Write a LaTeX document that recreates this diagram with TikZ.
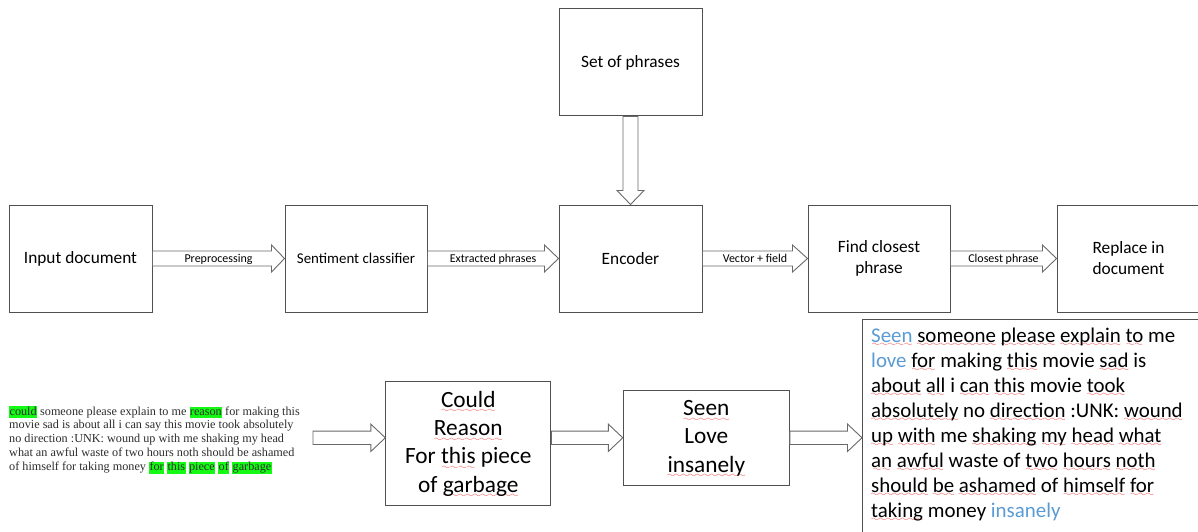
\documentclass[tikz,border=0pt]{standalone}
\usepackage{fontspec}
\setmainfont{Carlito}
\newfontfamily\timesfont{Liberation Serif}
\usetikzlibrary{calc}
\definecolor{boxline}{RGB}{80,80,80}
\definecolor{arrline}{RGB}{105,105,105}
\definecolor{hlgreen}{RGB}{20,250,20}
\definecolor{wordblue}{RGB}{91,155,213}
\definecolor{squig}{RGB}{240,60,60}
\definecolor{smalltext}{RGB}{45,45,45}
\newcommand\hlw[1]{{\setlength\fboxsep{0.4pt}\colorbox{hlgreen}{\vphantom{Ag}#1}}}
\newsavebox\sqbox
\font\wavefont=lasy6 scaled 1400
\newcommand\sqa[2][4.8pt]{\leavevmode\sbox\sqbox{#2}\rlap{\raisebox{-#1}[0pt][0pt]{\textcolor{squig}{\hbox to \wd\sqbox{\xleaders\hbox{\wavefont\char58}\hfil}}}}\usebox\sqbox}
% start, tip, half shaft, half head, head length
\newcommand\harrow[5]{\draw[fat] ($(#1)+(0,-#3)$) -- ($(#2)+(-#5,-#3)$) -- ($(#2)+(-#5,-#4)$) -- (#2) -- ($(#2)+(-#5,#4)$) -- ($(#2)+(-#5,#3)$) -- ($(#1)+(0,#3)$) -- cycle;}
\newcommand\varrow[5]{\draw[fat] ($(#1)+(-#3,0)$) -- ($(#2)+(-#3,-#5)$) -- ($(#2)+(-#4,-#5)$) -- (#2) -- ($(#2)+(#4,-#5)$) -- ($(#2)+(#3,-#5)$) -- ($(#1)+(#3,0)$) -- cycle;}
\begin{document}
\begin{tikzpicture}[x=1pt,y=-1pt,
  box/.style={draw=boxline, line width=1pt, fill=white, inner sep=0pt, align=center,
    minimum width=143pt, minimum height=107pt, font=\fontsize{17.3}{21.1}\selectfont},
  bigbox/.style={box, font=\fontsize{23.3}{28.3}\selectfont},
  fat/.style={draw=arrline, line width=0.9pt, fill=white, line join=miter},
  lbl/.style={font=\fontsize{12}{14}\selectfont, inner sep=0pt, anchor=base}]
\useasboundingbox[fill=white] (0,0) rectangle (1198,532);

% top row
\node[box] (inp) at (80.5,258.5) {Input document};
\node[box, minimum width=142pt, font=\fontsize{14.9}{18}\selectfont] (sent) at (356,258.5) {Sentiment classifier};
\node[box] (set) at (630.5,62.5) {Set of phrases};
\node[box] (enc) at (630.5,258.5) {Encoder};
\node[box, minimum width=142pt] (find) at (879,258.5) {Find closest\\phrase};
\node[box] (repl) at (1128.5,258.5) {Replace in\\document};

\harrow{inp.east}{sent.west}{7.5}{13.5}{13}
\harrow{sent.east}{enc.west}{7.5}{13.5}{14}
\harrow{enc.east}{find.west}{7.5}{13.5}{15}
\harrow{find.east}{repl.west}{7.5}{13.5}{14}
\varrow{set.south}{enc.north}{7.5}{13.5}{14}

\node[lbl] (lpre) at ($(inp.east)!0.5!(sent.west)+(0,4.2)$) {Preprocessing};
\node[lbl] (lext) at ($(sent.east)!0.5!(enc.west)+(0,4.2)$) {Extracted phrases};
\node[lbl] (lvec) at ($(enc.east)!0.5!(find.west)+(0,4.2)$) {Vector + field};
\node[lbl] (lclo) at ($(find.east)!0.5!(repl.west)+(0,4.2)$) {Closest phrase};

% bottom row
\node[anchor=base west, inner sep=0pt, text=smalltext] (src) at (9,415)
  {\parbox[t]{300pt}{\timesfont\fontsize{12.2}{13.9}\selectfont\raggedright
   \hlw{could} someone please explain to me \hlw{reason} for making this\\
   movie sad is about all i can say this movie took absolutely\\
   no direction :UNK: wound up with me shaking my head\\
   what an awful waste of two hours noth should be ashamed\\
   of himself for taking money \hlw{for} \hlw{this} \hlw{piece} \hlw{of} \hlw{garbage}}};

\node[bigbox, minimum width=165pt, minimum height=124.5pt] (could) at (468.3,443.5)
  {\sqa[5.6pt]{Could}\\\sqa[5.6pt]{Reason}\\For \sqa[5.6pt]{this} piece\\of \sqa[5.6pt]{garbage}};
\node[bigbox, minimum width=166pt, minimum height=95pt] (seen) at (706.3,438.2)
  {\sqa[5.6pt]{Seen}\\Love\\\sqa[5.6pt]{insanely}};
\node[draw=boxline, line width=1pt, fill=white, inner sep=0pt, anchor=north west,
  minimum width=345pt, minimum height=260pt] (out) at (862,319) {};

\coordinate (a1s) at (313,437.8);
\harrow{a1s}{could.west |- a1s}{6.7}{13.7}{14.5}
\harrow{could.east |- a1s}{seen.west |- a1s}{6.7}{13.7}{14.5}
\harrow{seen.east |- a1s}{out.west |- a1s}{6.7}{13.7}{14.5}

\node[anchor=base west, inner sep=0pt] (outtext) at (871,342)
  {\parbox[t]{325pt}{\fontsize{20.9}{25}\selectfont\raggedright
   \textcolor{wordblue}{\sqa{Seen}} \sqa{someone} \sqa{please} \sqa{explain} \sqa{to} me\\
   \textcolor{wordblue}{love} \sqa{for} making \sqa{this} movie \sqa{sad} is\\
   \sqa{about} \sqa{all} i \sqa{can} \sqa{this} movie \sqa{took}\\
   \sqa{absolutely} no \sqa{direction} :UNK: \sqa{wound}\\
   \sqa{up} \sqa{with} me \sqa{shaking} \sqa{my} \sqa{head} \sqa{what}\\
   \sqa{an} \sqa{awful} waste of \sqa{two} \sqa{hours} \sqa{noth}\\
   \sqa{should} \sqa{be} \sqa{ashamed} of \sqa{himself} \sqa{for}\\
   \sqa{taking} money \textcolor{wordblue}{insanely}}};
\end{tikzpicture}
\end{document}
